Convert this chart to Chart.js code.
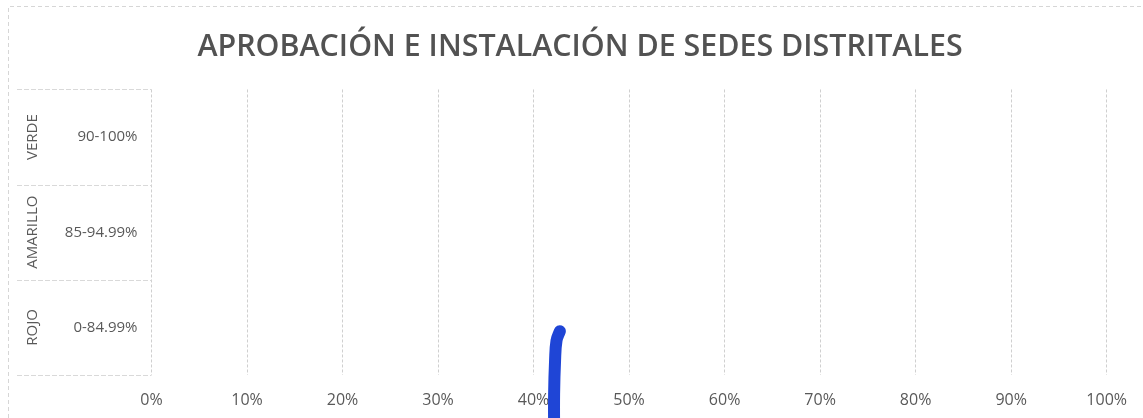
<!DOCTYPE html>
<html><head><meta charset="utf-8">
<script src="https://cdn.jsdelivr.net/npm/chart.js@4.4.1/dist/chart.umd.min.js"></script>
<style>html,body{margin:0;padding:0;background:#fff;} #wrap{width:1143px;height:418px;position:relative;}</style>
</head><body><div id="wrap"><canvas id="c"></canvas></div>
<script>
const chartTitle = 'APROBACIÓN E INSTALACIÓN DE SEDES DISTRITALES';
const rangeLabels = ['90-100%', '85-94.99%', '0-84.99%'];
const groupLabels = ['VERDE', 'AMARILLO', 'ROJO'];
const xMin = 0, xMax = 100, xStep = 10;
// hand-drawn pen mark (x in %, y in row units: 0 = bottom of ROJO, 3 = top of VERDE)
const markX = [42.75, 42.4, 42.25, 42.15, 42.15];
const markY = [0.46, 0.36, 0.15, -0.2, -0.6];

const GRID = '#cfcfcf';
const TXT = '#595959';
const FONT = 'Open Sans';

const frame = {
  id: 'frame',
  beforeDraw(chart) {
    const ctx = chart.ctx;
    ctx.save();
    ctx.strokeStyle = '#d6d6d6';
    ctx.lineWidth = 1;
    ctx.setLineDash([4, 3]);
    ctx.beginPath();
    ctx.moveTo(8.5, chart.height);
    ctx.lineTo(8.5, 6.5);
    ctx.lineTo(chart.width, 6.5);
    ctx.stroke();
    ctx.restore();
  },
  afterDraw(chart) {
    const ctx = chart.ctx, ys = chart.scales.yv, ca = chart.chartArea;
    ctx.save();
    ctx.strokeStyle = '#d9d9d9';
    ctx.lineWidth = 1;
    ctx.setLineDash([5, 2]);
    for (let i = 0; i <= groupLabels.length; i++) {
      const y = Math.round(ys.getPixelForValue(i)) + 0.5;
      ctx.beginPath();
      ctx.moveTo(17, y);
      ctx.lineTo(ca.left, y);
      ctx.stroke();
    }
    ctx.restore();
  }
};

function fixY(width) {
  return function (s) { s.width = width; s.paddingTop = 0; s.paddingBottom = 0; };
}

new Chart(document.getElementById('c'), {
  type: 'line',
  data: {
    datasets: [{
      data: markX.map((x, i) => ({x: x, y: markY[i]})),
      yAxisID: 'yv',
      xAxisID: 'x',
      borderColor: '#1f45d6',
      borderWidth: 12,
      borderCapStyle: 'round',
      borderJoinStyle: 'round',
      tension: 0.4,
      pointRadius: 0,
      clip: false
    }]
  },
  plugins: [frame],
  options: {
    responsive: true,
    maintainAspectRatio: false,
    animation: false,
    layout: {padding: {left: 17, right: 0, top: 0, bottom: 8}},
    plugins: {
      legend: {display: false},
      tooltip: {enabled: false},
      title: {
        display: true,
        text: chartTitle,
        color: '#525252',
        font: {family: FONT, size: 30.4, weight: '600'},
        padding: {top: 29, bottom: 24}
      }
    },
    scales: {
      x: {
        type: 'linear', position: 'bottom', min: xMin, max: xMax,
        ticks: {stepSize: xStep, color: TXT, font: {family: FONT, size: 16}, padding: 16,
          maxRotation: 0, callback: v => v + '%'},
        grid: {color: GRID, drawTicks: false},
        border: {display: false, dash: [3, 2]},
        afterFit(s) { s.height = 35; }
      },
      yv: {
        type: 'linear', position: 'right', min: 0, max: groupLabels.length,
        ticks: {display: false},
        grid: {display: false},
        border: {display: false},
        afterFit: fixY(36)
      },
      yr: {
        type: 'category', position: 'left', labels: rangeLabels, weight: 0, offset: true,
        ticks: {color: TXT, font: {family: FONT, size: 15}, padding: 14},
        grid: {display: false, drawTicks: false, offset: true},
        border: {display: false},
        afterFit: fixY(94.5)
      },
      yg: {
        type: 'category', position: 'left', labels: groupLabels, weight: 1, offset: true,
        ticks: {color: TXT, font: {family: FONT, size: 15}, minRotation: 90, maxRotation: 90,
          crossAlign: 'center', padding: -12},
        grid: {display: false, drawTicks: false, offset: true},
        border: {display: false},
        afterFit: fixY(40)
      }
    }
  }
});
</script></body></html>
